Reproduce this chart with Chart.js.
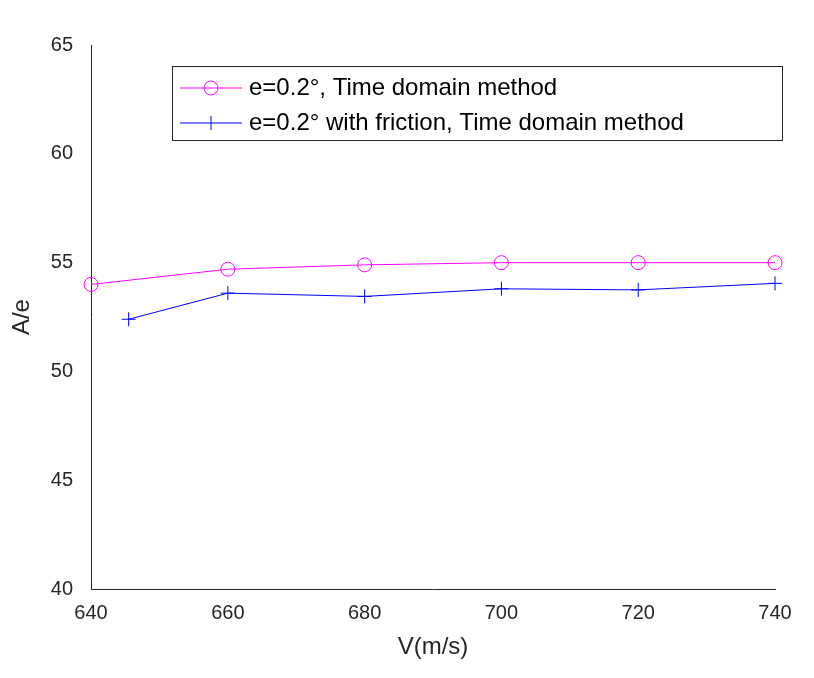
<!DOCTYPE html>
<html>
<head>
<script src="https://cdn.jsdelivr.net/npm/chart.js@4"></script>
<style>body{margin:0;background:#fff}#wrap{width:814px;height:678px}</style>
</head>
<body>
<div id="wrap"><canvas id="myChart"></canvas></div>
<script>
// values
var seriesNames = ["e=0.2\u00B0, Time domain method", "e=0.2\u00B0 with friction, Time domain method"];
var speedsA = [640, 660, 680, 700, 720, 740];
var ratioA = [54.0, 54.7, 54.9, 55.0, 55.0, 55.0];
var speedsB = [645.5, 660, 680, 700, 720, 740];
var ratioB = [52.4, 53.6, 53.45, 53.8, 53.75, 54.05];
var xTicks = [640, 660, 680, 700, 720, 740];
var yTicks = [40, 45, 50, 55, 60, 65];

function pairs(xs, ys) {
    return xs.map(function (x, i) { return {x: x, y: ys[i]}; });
}

// boxed legend inside the axes, MATLAB style
var boxLegend = {
    id: 'boxLegend',
    afterDraw: function (chart) {
        var ctx = chart.ctx;
        var x0 = 172, y0 = 66, w = 610, h = 74;
        ctx.save();
        ctx.fillStyle = '#fff';
        ctx.fillRect(x0, y0, w, h);
        ctx.strokeStyle = '#262626';
        ctx.lineWidth = 1;
        ctx.strokeRect(x0 + 0.5, y0 + 0.5, w, h);
        ctx.font = '24px Arial, "Liberation Sans"';
        ctx.textBaseline = 'middle';
        chart.data.datasets.forEach(function (ds, i) {
            var y = y0 + 22 + i * 35;
            ctx.strokeStyle = ds.borderColor;
            ctx.beginPath();
            ctx.moveTo(x0 + 8, y);
            ctx.lineTo(x0 + 70, y);
            ctx.stroke();
            if (i == 0) {
                ctx.beginPath();
                ctx.arc(x0 + 39, y, 7, 0, 2 * Math.PI);
                ctx.stroke();
            } else {
                ctx.beginPath();
                ctx.moveTo(x0 + 39, y - 7);
                ctx.lineTo(x0 + 39, y + 7);
                ctx.stroke();
            }
            ctx.fillStyle = '#000';
            ctx.fillText(ds.label, x0 + 77, y);
        });
        ctx.restore();
    }
};

var ctxL = document.getElementById('myChart').getContext('2d');
var myChart = new Chart(ctxL, {
    type: 'scatter',
    data: {
        datasets: [{
            label: seriesNames[0],
            data: pairs(speedsA, ratioA),
            showLine: true,
            clip: false,
            borderColor: '#ff00ff',
            backgroundColor: 'rgba(0,0,0,0)',
            borderWidth: 1,
            pointStyle: 'circle',
            pointRadius: 7,
            pointBorderWidth: 1
        }, {
            label: seriesNames[1],
            data: pairs(speedsB, ratioB),
            showLine: true,
            clip: false,
            borderColor: '#0000ff',
            backgroundColor: 'rgba(0,0,0,0)',
            borderWidth: 1,
            pointStyle: 'cross',
            pointRadius: 7,
            pointBorderWidth: 1
        }]
    },
    options: {
        responsive: true,
        maintainAspectRatio: false,
        animation: false,
        layout: {padding: {left: 4, right: 39, top: 45, bottom: 12}},
        plugins: {legend: {display: false}, tooltip: {enabled: false}},
        scales: {
            x: {
                type: 'linear', min: 640, max: 740,
                afterBuildTicks: function (s) { s.ticks = xTicks.map(function (v) { return {value: v}; }); },
                grid: {display: false, drawTicks: true},
                border: {color: '#262626'},
                ticks: {color: '#262626', font: {size: 20, family: 'Arial, "Liberation Sans"'}, padding: 4},
                title: {display: true, text: 'V(m/s)', color: '#262626', font: {size: 24, family: 'Arial, "Liberation Sans"'}}
            },
            y: {
                min: 40, max: 65,
                afterBuildTicks: function (s) { s.ticks = yTicks.map(function (v) { return {value: v}; }); },
                grid: {display: false},
                border: {color: '#262626'},
                ticks: {color: '#262626', font: {size: 20, family: 'Arial, "Liberation Sans"'}, padding: 10},
                title: {display: true, text: 'A/e', color: '#262626', font: {size: 24, family: 'Arial, "Liberation Sans"'}}
            }
        }
    },
    plugins: [boxLegend]
});
</script>
</body>
</html>
